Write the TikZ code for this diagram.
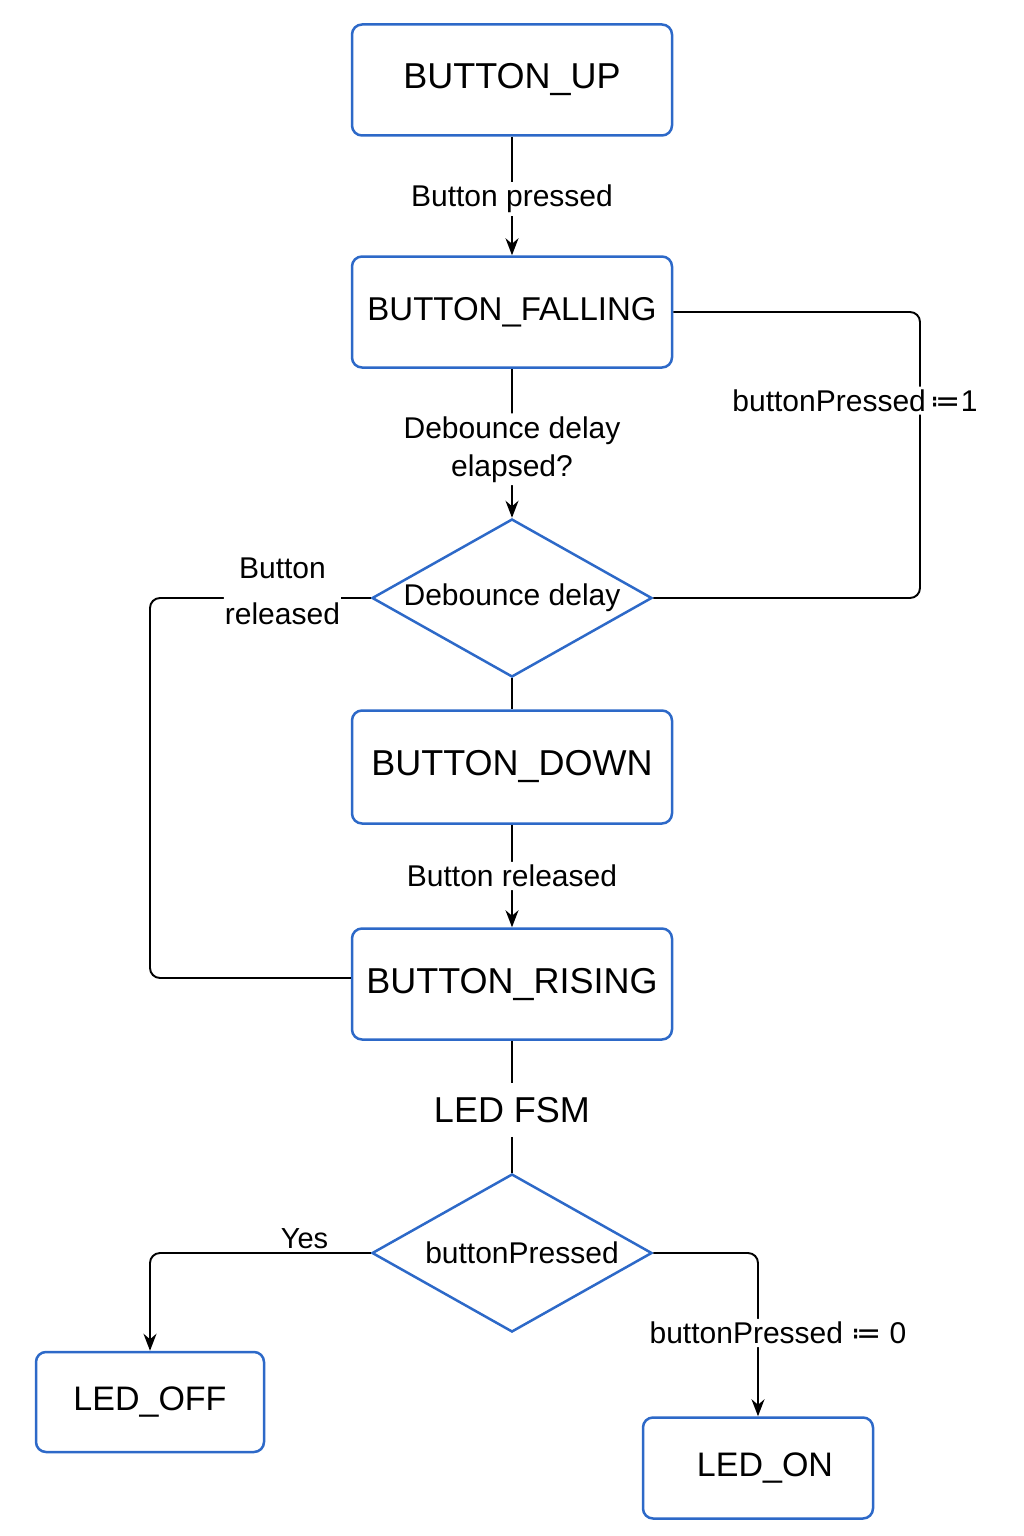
\documentclass[tikz,border=0pt]{standalone}
\usepackage{fontspec}
\setmainfont{Liberation Sans}
\newfontfamily\symfont{DejaVu Sans}
\usepackage{tikz}
\usetikzlibrary{arrows,arrows.meta,shapes,positioning}
\usepackage{xcolor}
\definecolor{fsmblue}{RGB}{45,105,200}
\tikzstyle{state} = [draw=fsmblue, line width=2.5pt, rounded corners=10pt, minimum width=320pt, minimum height=111pt, font=\fontsize{36}{42}\selectfont]
\tikzstyle{decision} = [draw=fsmblue, line width=2.5pt, diamond, aspect=1.77, inner sep=0pt, minimum width=280pt, minimum height=158pt, font=\fontsize{30}{36}\selectfont]
\tikzstyle{lbl} = [fill=white, inner sep=3pt, font=\fontsize{30}{38}\selectfont, align=center]
\tikzstyle{link} = [line width=1.9pt, rounded corners=10pt]
\tikzstyle{arrow} = [link,-{Stealth[length=17pt,width=13pt]}]

\begin{document}
\begin{tikzpicture}[x=1pt,y=-1pt]
\useasboundingbox (0,0) rectangle (1024,1536);

% Button FSM
\node[state] (up) at (512,80) {BUTTON\_UP};
\node[state, font=\fontsize{33}{40}\selectfont] (falling) at (512,312) {BUTTON\_FALLING};
\node[decision] (debounce) at (512,598) {Debounce delay};
\node[state, minimum height=113pt] (down) at (512,767) {BUTTON\_DOWN};
\node[state] (rising) at (512,984) {BUTTON\_RISING};
\coordinate (rightbend) at (920,0);
\coordinate (leftbend) at (150,0);

\draw[arrow] (up) -- node[lbl, yshift=-3pt] {Button pressed} (falling);
\draw[arrow] (falling) -- node[lbl, yshift=-6pt] {Debounce delay\\elapsed?} (debounce);
\draw[link] (falling.east) -- (falling.east -| rightbend) -- node[lbl, pos=0.31, xshift=-65pt] {buttonPressed\,{\symfont ≔}1} (debounce.east -| rightbend) -- (debounce.east);
\draw[link] (debounce.south) -- (down.north);
\draw[arrow] (down) -- node[lbl] {Button released} (rising);
\draw[link] ([yshift=6pt]rising.west) -- ([yshift=6pt]rising.west -| leftbend) -- (debounce.west -| leftbend) -- node[lbl, pos=0.6, yshift=7pt, inner sep=1pt, font=\fontsize{30}{46}\selectfont] {Button\\released} (debounce.west);

% LED FSM
\node[inner sep=14pt, font=\fontsize{36}{42}\selectfont] (fsm) at (512,1110) {LED FSM};
\node[decision] (pressed) at (512,1253) {\hspace*{20pt}buttonPressed};
\node[state, minimum width=228pt, minimum height=100pt, font=\fontsize{34}{40}\selectfont] (off) at (150,1402) {LED\_OFF};
\node[state, minimum width=230pt, minimum height=101pt, font=\fontsize{34}{40}\selectfont] (on) at (758,1468) {\hspace*{14pt}LED\_ON};

\draw[link] (rising.south) -- (fsm.north);
\draw[link] (fsm.south) -- (pressed.north);
\draw[arrow] (pressed.west) -| node[pos=0.15, above, font=\fontsize{29}{34}\selectfont] {Yes} (off.north);
\draw[arrow] (pressed.east) -| node[lbl, pos=0.745, xshift=20pt] {buttonPressed {\symfont ≔} 0} (on.north);
\end{tikzpicture}
\end{document}
